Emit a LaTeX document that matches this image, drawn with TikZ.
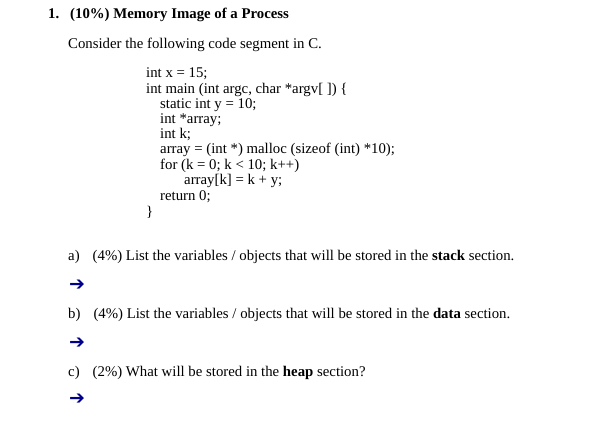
\documentclass[tikz,border=0pt]{standalone}
\usepackage{fontspec}
\setmainfont{Liberation Serif}
\newfontfamily\arr{DejaVu Sans}
\definecolor{navy}{RGB}{0,0,140}
\begin{document}
\begin{tikzpicture}[x=1pt,y=-1pt,
  t/.style={anchor=base west,inner sep=0pt,font=\fontsize{14.8}{16}\selectfont},
  ar/.style={anchor=base west,inner sep=0pt,text=navy,font=\arr\bfseries\fontsize{19}{20}\selectfont}]
\useasboundingbox[fill=white] (0,0) rectangle (600,427);
\node[t] (n1) at (48,19) {\textbf{1.}};
\node[t] (ttl) at (70,19) {\textbf{(10\%) Memory Image of a Process}};
\node[t] (intro) at (68,49) {Consider the following code segment in C.};
\node[t] (c1) at (146,78) {int x = 15;};
\node[t] (c2) at (146,94) {int main (int argc, char *argv[ ]) \{};
\node[t] (c3) at (160,109) {static int y = 10;};
\node[t] (c4) at (160,124) {int *array;};
\node[t] (c5) at (160,139) {int k;};
\node[t] (c6) at (160,154) {array = (int *) malloc (sizeof (int) *10);};
\node[t] (c7) at (160,170) {for (k = 0; k < 10; k++)};
\node[t] (c8) at (184,185) {array[k] = k + y;};
\node[t] (c9) at (160,201) {return 0;};
\node[t] (c10) at (146,217) {\}};
\node[t] (qa) at (68,261) {a)\hspace{13pt}(4\%) List the variables / objects that will be stored in the \textbf{stack} section.};
\node[ar] (aa) at (69,291) {➔};
\node[t] (qb) at (68,319) {b)\hspace{13pt}(4\%) List the variables / objects that will be stored in the \textbf{data} section.};
\node[ar] (ab) at (69,349) {➔};
\node[t] (qc) at (68,377) {c)\hspace{13pt}(2\%) What will be stored in the \textbf{heap} section?};
\node[ar] (ac) at (69,405) {➔};
\end{tikzpicture}
\end{document}
